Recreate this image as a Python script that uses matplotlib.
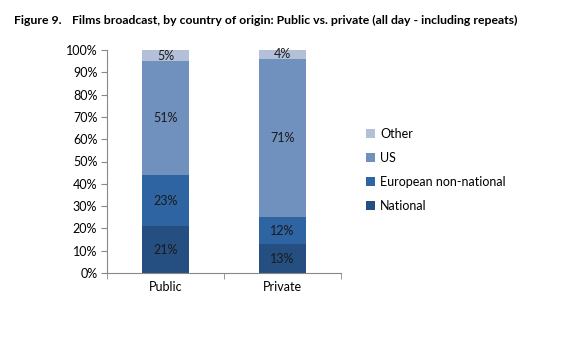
import numpy as np
import matplotlib.pyplot as plt

plt.rcParams['font.family'] = ['Lato', 'DejaVu Sans']

categorias = ['Public', 'Private']
series = ['National', 'European non-national', 'US', 'Other']
national = [21, 13]
european = [23, 12]
us = [51, 71]
other = [5, 4]
colores = ['#254f80', '#2e64a1', '#7090bd', '#b4bfd8']

fig = plt.figure(figsize=(5.75, 3.37), dpi=100)
ax = fig.add_axes([107 / 575, 1 - 273 / 337, 234 / 575, 223 / 337])

x = np.arange(len(categorias))
abajo = np.zeros(len(categorias))
for nombre, vals, col in zip(series, [national, european, us, other], colores):
    vals = np.array(vals, dtype=float)
    ax.bar(x, vals, 0.4, bottom=abajo, color=col, label=nombre)
    for xi, v, b in zip(x, vals, abajo):
        ax.text(xi, b + v / 2, '%d%%' % v, ha='center', va='center',
                fontsize=9, color='#1a1a1a')
    abajo += vals

ax.set_xlim(-0.5, 1.5)
ax.set_ylim(0, 100)
ax.set_yticks(range(0, 101, 10))
ax.set_yticklabels(['%d%%' % t for t in range(0, 101, 10)], fontsize=9)
ax.set_xticks(x)
ax.set_xticklabels(categorias, fontsize=9)
ax.tick_params(axis='x', length=0, pad=6)
ax.set_xticks([-0.5, 0.5, 1.5], minor=True)
ax.tick_params(axis='x', which='minor', length=4, color='#888888')
ax.tick_params(axis='y', length=4, color='#888888', pad=3)
for s in ['top', 'right']:
    ax.spines[s].set_visible(False)
for s in ['left', 'bottom']:
    ax.spines[s].set_color('#888888')
    ax.spines[s].set_linewidth(0.8)

h, l = ax.get_legend_handles_labels()
fig.legend(h[::-1], l[::-1], loc='center left', bbox_to_anchor=(355 / 575, 1 - 170 / 337),
           frameon=False, fontsize=9, handlelength=0.7, handleheight=0.7,
           labelspacing=0.95, handletextpad=0.4)

fig.text(14 / 575, 1 - 20 / 337, 'Figure 9.', fontsize=8.8, fontweight='bold', va='center')
fig.text(72 / 575, 1 - 20 / 337,
         'Films broadcast, by country of origin: Public vs. private (all day - including repeats)',
         fontsize=8.8, fontweight='bold', va='center')

fig.savefig('out.png', dpi=100)
